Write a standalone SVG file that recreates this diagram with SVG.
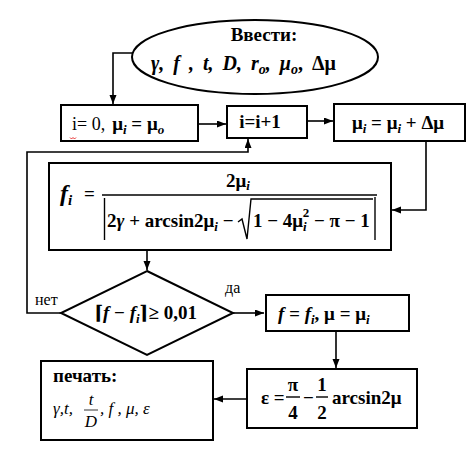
<svg xmlns="http://www.w3.org/2000/svg" width="474" height="458" viewBox="0 0 474 458">
<defs>
<marker id="ah" markerUnits="userSpaceOnUse" markerWidth="10" markerHeight="8" refX="9" refY="3.5" orient="auto">
<path d="M0,0 L9,3.5 L0,7 z" fill="#000"/>
</marker>
<style>
.box{fill:#fff;stroke:#000;stroke-width:2}
.con{fill:none;stroke:#000;stroke-width:1.6;marker-end:url(#ah)}
.ln{fill:none;stroke:#000;stroke-width:1.4}
text{font-family:Liberation Serif,Times New Roman,Times,DejaVu Serif,Noto Serif,serif}
.b{font-weight:bold;font-size:19px}
.bi{font-weight:bold;font-style:italic;font-size:19px}
.r{font-size:18px}
.it{font-style:italic;font-size:17px}
.sub{font-size:13px}
</style>
</defs>
<rect width="474" height="458" fill="#fff"/>

<g id="connectors">
<path class="con" d="M133,53 H113 V104"/>
<path class="con" d="M198,124 H226"/>
<path class="con" d="M307,121 H333"/>
<path class="con" d="M426,141 V210 H392"/>
<path class="con" d="M61,313 H27 V152 H248 V139"/>
<path class="con" d="M147,250 V270"/>
<path class="con" d="M233,313 H264"/>
<path class="con" d="M336,331 V368"/>
<path class="con" d="M247,399 H214"/>
</g>

<g id="input">
<ellipse class="box" cx="255" cy="57" rx="123" ry="37"/>
<text class="b" x="264" y="41" text-anchor="middle">Ввести:</text>
<text class="bi" x="151" y="70" style="font-size:20px;word-spacing:4px">γ, f , t, D, r<tspan style="font-size:14px" dy="4">o</tspan><tspan dy="-4">, μ</tspan><tspan style="font-size:14px" dy="4">o</tspan><tspan dy="-4" style="font-style:normal">, Δμ</tspan></text>
</g>

<g id="init">
<rect class="box" x="61" y="105" width="137" height="36"/>
<text class="r" x="72" y="130">i= 0,<tspan class="b" dx="7">μ</tspan><tspan class="bi sub" dy="4">i</tspan><tspan class="b" dy="-4"> = μ</tspan><tspan class="bi sub" dy="4">o</tspan></text>
<path d="M70,137.5 l1.5,1.5 l1.5,-1.5 l1.5,1.5 l1.5,-1.5" fill="none" stroke="#e00000" stroke-width="0.8"/>
</g>

<g id="incr">
<rect class="box" x="227" y="106" width="80" height="32"/>
<text class="b" x="260" y="128" text-anchor="middle">i=i+1</text>
</g>

<g id="mustep">
<rect class="box" x="334" y="104" width="131" height="37"/>
<text class="b" x="398" y="129" text-anchor="middle">μ<tspan class="bi sub" dy="4">i</tspan><tspan dy="-4"> = μ</tspan><tspan class="bi sub" dy="4">i</tspan><tspan dy="-4"> + Δμ</tspan></text>
</g>

<g id="formula">
<rect class="box" x="49" y="163" width="342" height="87"/>
<text class="bi" x="60" y="201" style="font-size:24px">f<tspan style="font-size:15px" dy="4">i</tspan></text>
<text class="b" x="84" y="200">=</text>
<line class="ln" x1="102" y1="195" x2="377" y2="195"/>
<text class="b" x="226" y="187">2μ<tspan class="bi sub" dy="3">i</tspan></text>
<line class="ln" x1="104.5" y1="198" x2="104.5" y2="240"/>
<line class="ln" x1="375" y1="197" x2="375" y2="240"/>
<text class="b" x="107" y="227">2<tspan class="bi">γ</tspan> + arcsin2μ<tspan class="bi sub" dy="4">i</tspan><tspan dy="-4"> −</tspan></text>
<path class="ln" d="M238,222 L242,219 L247,239 L251,199 H373"/>
<text class="b" x="253" y="227">1 − 4μ<tspan class="bi sub" dy="4">i</tspan><tspan class="b sub" dx="-4" dy="-14">2</tspan><tspan dy="10"> − π − 1</tspan></text>
</g>

<g id="decision">
<polygon class="box" points="147,271 233,313 147,355 61,313"/>
<text class="b" x="94" y="319">⌈<tspan class="bi">f</tspan> − <tspan class="bi">f</tspan><tspan class="bi sub" dy="4">i</tspan><tspan dy="-4">⌉≥ 0,01</tspan></text>
<text class="r" x="35" y="305" style="font-size:16px">нет</text>
<text class="r" x="225" y="293" style="font-size:16px">да</text>
</g>

<g id="assign">
<rect class="box" x="266" y="295" width="143" height="36"/>
<text class="bi" x="278" y="320">f = f<tspan class="sub" dy="4">i</tspan><tspan dy="-4" style="font-style:normal">, μ = μ</tspan><tspan class="sub" dy="4">i</tspan></text>
</g>

<g id="eps">
<rect class="box" x="247" y="369" width="170" height="59"/>
<text class="b" x="261" y="404">ε =</text>
<text class="b" x="293" y="391" text-anchor="middle">π</text>
<line class="ln" x1="286" y1="397" x2="300" y2="397"/>
<text class="b" x="293" y="419" text-anchor="middle">4</text>
<text class="b" x="303" y="404">−</text>
<text class="b" x="322" y="391" text-anchor="middle">1</text>
<line class="ln" x1="316" y1="397" x2="328" y2="397"/>
<text class="b" x="322" y="419" text-anchor="middle">2</text>
<text class="b" x="332" y="404">arcsin2μ</text>
</g>

<g id="print">
<rect class="box" x="41" y="361" width="172" height="79"/>
<text class="b" x="53" y="382">печать:</text>
<text class="it" x="53" y="414">γ,t,</text>
<text class="it" x="91" y="405" text-anchor="middle">t</text>
<line x1="84" y1="410" x2="98" y2="410" stroke="#000" stroke-width="0.8"/>
<text class="it" x="91" y="427" text-anchor="middle">D</text>
<text class="it" x="100" y="414">, f , μ, ε</text>
</g>
</svg>
